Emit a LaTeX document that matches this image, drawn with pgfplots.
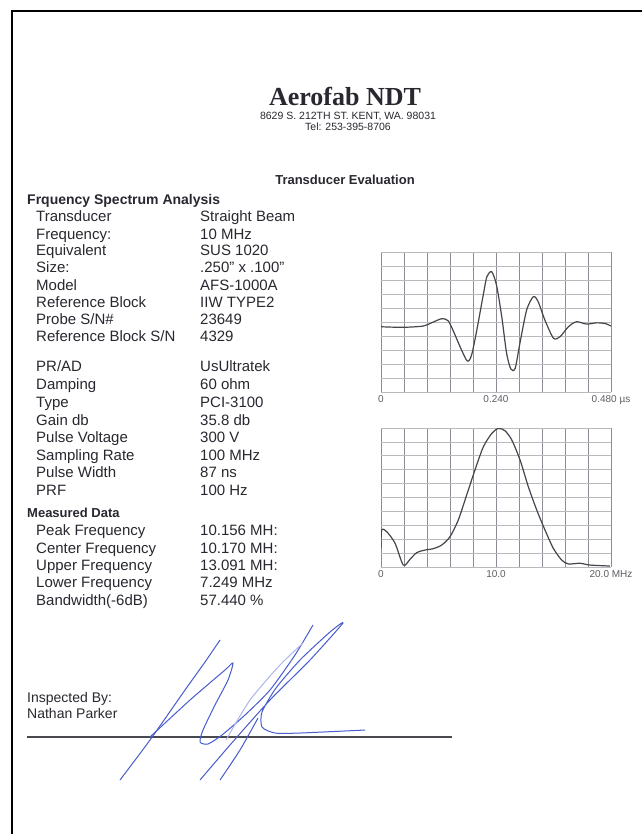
\documentclass[border=0pt]{standalone}
\usepackage{pgfplots}
\pgfplotsset{compat=1.18}
\usepackage{fontspec}
\setmainfont{Liberation Sans}
\newfontfamily\headserif{Liberation Serif}
\definecolor{ink}{RGB}{40,40,48}
\definecolor{trace}{RGB}{70,70,74}
\definecolor{gridv}{RGB}{140,140,148}
\definecolor{gridh}{RGB}{185,185,190}
\definecolor{pen}{RGB}{72,92,205}
\newcommand{\fs}[1]{\fontsize{#1}{#1}\selectfont}

\begin{document}
\begin{tikzpicture}
\useasboundingbox (0,0) rectangle (642pt,-834pt);
\fill[white] (0,0) rectangle (642pt,-834pt);

% whole page as an invisible axis, pixel coordinates, y downwards
\begin{axis}[
    at={(0pt,-834pt)}, anchor=south west,
    width=642pt, height=834pt, scale only axis,
    xmin=0, xmax=642, ymin=0, ymax=834, y dir=reverse,
    hide axis, clip=false,
  ]
  % scan edge: left and top only
  \draw[black, line width=2.6pt] (axis cs:12,834) -- (axis cs:12,11) -- (axis cs:642,11);
  \draw[ink!85, line width=1.2pt] (axis cs:27,737) -- (axis cs:452,737);

  % signature
  \addplot[pen, line width=1pt, smooth, tension=0.4] coordinates {
      (120,780) (150,740) (185,690) (205,662) (220,640)
    };
  \addplot[pen, line width=1pt, smooth, tension=0.4] coordinates {
      (150,737) (190,700) (225,670) (233,663) (228,680) (215,705)
      (203,730) (200,742) (208,744) (222,735) (245,715) (270,690)
      (295,655) (313,625)
    };
  \addplot[pen, line width=1pt, smooth, tension=0.4] coordinates {
      (200,780) (230,745) (270,700) (310,660) (343,623) (330,632)
      (300,660) (276,688) (262,712) (262,727) (275,733) (300,733)
      (365,730)
    };
  \addplot[pen, line width=1pt, smooth, tension=0.4] coordinates {
      (220,780) (240,750) (258,718)
    };
  \addplot[pen!45, line width=1pt, smooth, tension=0.4] coordinates {
      (226,740) (250,700) (280,665) (303,643)
    };
\end{axis}

% time trace
\begin{axis}[
    at={(381pt,-392pt)}, anchor=south west,
    width=230pt, height=140pt, scale only axis,
    xmin=0, xmax=0.48, ymin=0, ymax=10,
    xtick={0,0.048,0.096,0.144,0.192,0.24,0.288,0.336,0.384,0.432,0.48},
    xticklabels={0,,,,,0.240,,,,,0.480 µs},
    ytick={0,1,2,3,4,5,6,7,8,9,10}, yticklabels={},
    grid=major, major tick length=0pt,
    axis line style={draw=none},
    x grid style={gridv, line width=0.8pt},
    y grid style={gridh, line width=0.7pt},
    xticklabel style={font=\fs{10}, text=ink!75},
  ]
  \addplot[trace, line width=1.2pt, smooth, tension=0.45] coordinates {
      (0.000,4.66) (0.046,4.62) (0.088,4.71) (0.106,4.95) (0.127,5.24)
      (0.140,5.09) (0.150,4.43) (0.165,3.24) (0.180,2.21) (0.189,2.64)
      (0.200,4.43) (0.214,7.05) (0.221,8.24) (0.231,8.59) (0.241,7.64)
      (0.252,5.38) (0.262,2.79) (0.271,1.64) (0.280,1.69) (0.290,3.50)
      (0.304,5.86) (0.318,6.81) (0.328,6.45) (0.342,5.14) (0.360,3.84)
      (0.374,3.96) (0.391,4.66) (0.408,5.02) (0.429,4.85) (0.450,4.94)
      (0.468,4.89) (0.480,4.71)
    };
\end{axis}

% spectrum
\begin{axis}[
    at={(381pt,-567pt)}, anchor=south west,
    width=230pt, height=139pt, scale only axis,
    xmin=0, xmax=20, ymin=0, ymax=10,
    xtick={0,2,4,6,8,10,12,14,16,18,20},
    xticklabels={0,,,,,10.0,,,,,20.0 MHz},
    ytick={0,1,2,3,4,5,6,7,8,9,10}, yticklabels={},
    grid=major, major tick length=0pt,
    axis line style={draw=none},
    x grid style={gridv, line width=0.8pt},
    y grid style={gridh, line width=0.7pt},
    xticklabel style={font=\fs{10}, text=ink!75},
  ]
  \addplot[trace, line width=1.2pt, smooth, tension=0.45] coordinates {
      (0.00,1.35) (0.06,2.66) (0.50,2.54) (1.22,1.71) (1.94,0.14)
      (2.52,0.55) (3.10,1.03) (3.83,1.22) (4.55,1.32) (5.28,1.58)
      (6.00,2.18) (6.72,3.38) (7.45,5.18) (8.17,6.98) (8.90,8.65)
      (9.63,9.61) (10.20,9.97) (10.78,9.80) (11.37,9.14) (12.09,7.70)
      (12.81,5.78) (13.54,4.10) (14.26,2.66) (14.98,1.35) (15.71,0.50)
      (16.29,0.22) (17.30,0.27) (18.17,0.14) (19.91,0.07)
    };
\end{axis}

% page text, pixel coordinates
\begin{scope}[x=1pt, y=-1pt, every node/.style={inner sep=0pt, text=ink}]
  \node[anchor=base, font=\headserif\bfseries\fs{26}] at (345,106) {Aerofab NDT};
  \node[anchor=base, font=\fs{10.5}] at (348,120) {8629 S. 212TH ST. KENT, WA. 98031};
  \node[anchor=base, font=\fs{10.5}] at (348,131) {Tel: 253-395-8706};
  \node[anchor=base, font=\bfseries\fs{13}] at (345,185) {Transducer Evaluation};

  \node[anchor=base west, font=\bfseries\fs{14}] at (27,205) {Frquency Spectrum Analysis};
  \newcommand{\row}[3]{%
    \node[anchor=base west, font=\fs{15}] at (36,#1) {#2};
    \node[anchor=base west, font=\fs{15}] at (200,#1) {#3};}
  \row{222}{Transducer}{Straight Beam}
  \row{239}{Frequency:}{10 MHz}
  \row{255}{Equivalent}{SUS 1020}
  \row{272}{Size:}{.250" x .100"}
  \row{290}{Model}{AFS-1000A}
  \row{307}{Reference Block}{IIW TYPE2}
  \row{324}{Probe S/N\#}{23649}
  \row{341}{Reference Block S/N}{4329}
  \row{371}{PR/AD}{UsUltratek}
  \row{389}{Damping}{60 ohm}
  \row{407}{Type}{PCI-3100}
  \row{425}{Gain db}{35.8 db}
  \row{442}{Pulse Voltage}{300 V}
  \row{460}{Sampling Rate}{100 MHz}
  \row{477}{Pulse Width}{87 ns}
  \row{495}{PRF}{100 Hz}
  \node[anchor=base west, font=\bfseries\fs{13}] at (27,517) {Measured Data};
  \row{535}{Peak Frequency}{10.156 MH:}
  \row{553}{Center Frequency}{10.170 MH:}
  \row{570}{Upper Frequency}{13.091 MH:}
  \row{587}{Lower Frequency}{7.249 MHz}
  \row{605}{Bandwidth(-6dB)}{57.440 \%}

  \node[anchor=base west, font=\fs{14}] at (27,702) {Inspected By:};
  \node[anchor=base west, font=\fs{14}] at (27,718) {Nathan Parker};
\end{scope}
\end{tikzpicture}
\end{document}
